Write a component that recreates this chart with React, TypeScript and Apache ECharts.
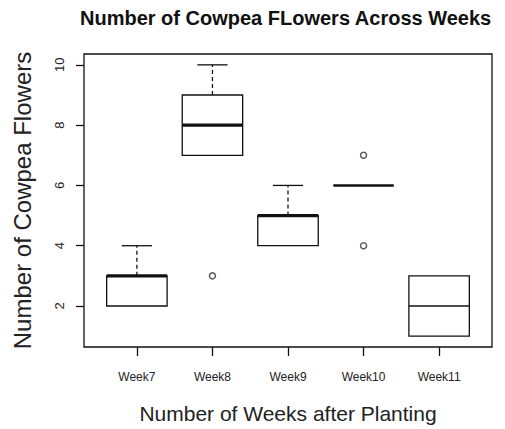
import React, { useEffect, useRef } from "react";
import * as echarts from "echarts";

const weeks = ["Week7", "Week8", "Week9", "Week10", "Week11"];
const whiskerLow = [2, 7, 4, 6, 1];
const lowerQuartile = [2, 7, 4, 6, 1];
const medians = [3, 8, 5, 6, 2];
const upperQuartile = [3, 9, 5, 6, 3];
const whiskerHigh = [4, 10, 6, 6, 3];
const outlierWeeks = ["Week8", "Week10", "Week10"];
const outlierValues = [3, 7, 4];
const yTicks = [2, 4, 6, 8, 10];

const FONT = "Liberation Sans, Arial, Helvetica, sans-serif";
const INK = "#111";

export default function App() {
  const ref = useRef<HTMLDivElement>(null);

  useEffect(() => {
    if (!ref.current) return;
    const chart = echarts.init(ref.current, null, { renderer: "svg" });

    const positions = weeks.map((_, i) => i + 1);
    const boxData = weeks.map((_, i) => [
      positions[i],
      whiskerLow[i],
      lowerQuartile[i],
      medians[i],
      upperQuartile[i],
      whiskerHigh[i],
    ]);
    const outlierData = outlierWeeks.map((w, i) => [weeks.indexOf(w) + 1, outlierValues[i]]);

    const allVals = [...whiskerLow, ...whiskerHigh, ...outlierValues];
    const dMin = Math.min(...allVals);
    const dMax = Math.max(...allVals);
    const pad = (dMax - dMin) * 0.04;
    const xPad = weeks.length * 0.04;

    const option: any = {
      animation: false,
      backgroundColor: "#fff",
      title: {
        text: "Number of Cowpea FLowers Across Weeks",
        left: 75,
        top: 3,
        textStyle: { fontFamily: FONT, fontWeight: "bold", fontSize: 20, color: INK },
      },
      grid: {
        left: 84,
        top: 54,
        right: 13,
        bottom: 81,
        show: true,
        borderColor: INK,
        borderWidth: 1.3,
        backgroundColor: "transparent",
      },
      xAxis: {
        type: "value",
        min: 0.5 - xPad,
        max: weeks.length + 0.5 + xPad,
        axisLine: { show: false },
        splitLine: { show: false },
        axisTick: {
          show: true,
          length: 9,
          customValues: positions,
          lineStyle: { color: INK, width: 1.3 },
        },
        axisLabel: {
          customValues: positions,
          formatter: (v: number) => weeks[Math.round(v) - 1] ?? "",
          margin: 24,
          fontSize: 12,
          color: "#222",
          fontFamily: FONT,
        },
        name: "Number of Weeks after Planting",
        nameLocation: "middle",
        nameGap: 56,
        nameTextStyle: { fontSize: 21, color: "#222", fontFamily: FONT },
      },
      yAxis: {
        type: "value",
        min: dMin - pad,
        max: dMax + pad,
        axisLine: { show: false },
        splitLine: { show: false },
        axisTick: {
          show: true,
          length: 8,
          customValues: yTicks,
          lineStyle: { color: INK, width: 1.3 },
        },
        axisLabel: {
          customValues: yTicks,
          rotate: 90,
          margin: 18,
          fontSize: 13,
          color: "#222",
          fontFamily: FONT,
        },
        name: "Number of Cowpea Flowers",
        nameLocation: "middle",
        nameGap: 50,
        nameTextStyle: { fontSize: 24, color: "#222", fontFamily: FONT },
      },
      series: [
        {
          type: "custom",
          coordinateSystem: "cartesian2d",
          encode: { x: 0, y: [1, 2, 3, 4, 5] },
          data: boxData,
          renderItem: (params: any, api: any) => {
            const x = api.value(0);
            const lo = api.value(1);
            const q1 = api.value(2);
            const med = api.value(3);
            const q3 = api.value(4);
            const hi = api.value(5);
            const halfW = api.size([0.8, 0])[0] / 2;
            const capHalf = halfW / 2;
            const cx = api.coord([x, med])[0];
            const yLo = api.coord([x, lo])[1];
            const yQ1 = api.coord([x, q1])[1];
            const yMed = api.coord([x, med])[1];
            const yQ3 = api.coord([x, q3])[1];
            const yHi = api.coord([x, hi])[1];
            const ls = { stroke: INK, lineWidth: 1.3, fill: null };
            const dashed = { ...ls, lineDash: [4, 3] };
            const children: any[] = [];
            if (hi > q3) {
              children.push({ type: "line", shape: { x1: cx, y1: yQ3, x2: cx, y2: yHi }, style: dashed });
              children.push({ type: "line", shape: { x1: cx - capHalf, y1: yHi, x2: cx + capHalf, y2: yHi }, style: ls });
            }
            if (lo < q1) {
              children.push({ type: "line", shape: { x1: cx, y1: yQ1, x2: cx, y2: yLo }, style: dashed });
              children.push({ type: "line", shape: { x1: cx - capHalf, y1: yLo, x2: cx + capHalf, y2: yLo }, style: ls });
            }
            if (q3 > q1) {
              children.push({
                type: "rect",
                shape: { x: cx - halfW, y: yQ3, width: 2 * halfW, height: yQ1 - yQ3 },
                style: { ...ls, fill: "rgba(0,0,0,0)" },
              });
            }
            const medW = params.dataIndex === 4 ? 1.3 : params.dataIndex === 3 ? 2.4 : 3.2;
            children.push({
              type: "line",
              shape: { x1: cx - halfW, y1: yMed, x2: cx + halfW, y2: yMed },
              style: { stroke: INK, lineWidth: medW },
            });
            return { type: "group", children };
          },
          z: 2,
        },
        {
          type: "scatter",
          data: outlierData,
          symbol: "circle",
          symbolSize: 6,
          itemStyle: { color: "#fff", borderColor: "#333", borderWidth: 1.5 },
          z: 3,
        },
      ],
    };

    chart.setOption(option);
    return () => chart.dispose();
  }, []);

  return (
    <div
      ref={ref}
      style={{ position: "fixed", left: 0, top: 0, width: 505, height: 429, background: "#fff" }}
    />
  );
}
